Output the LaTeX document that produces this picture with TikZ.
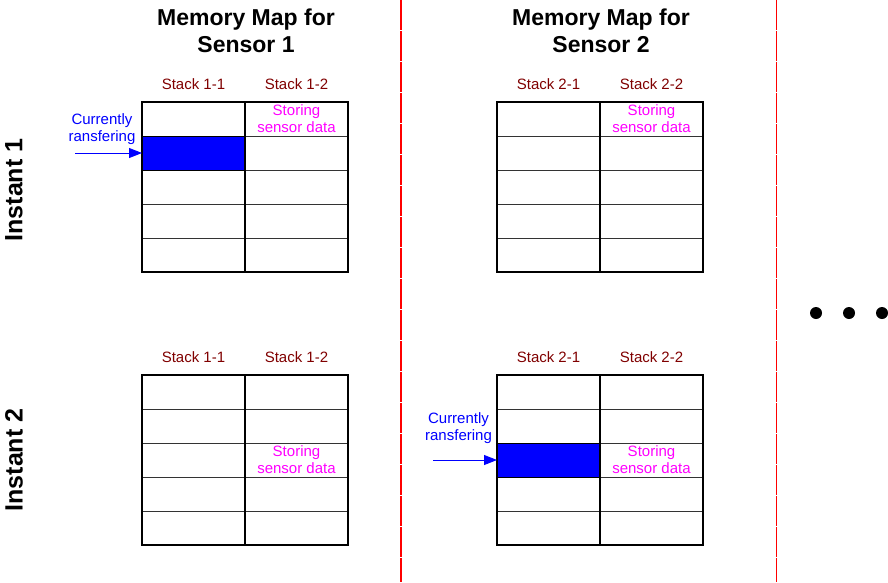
\documentclass[tikz,border=0pt]{standalone}
\usepackage{fontspec}
\setmainfont{Liberation Sans}
\usetikzlibrary{arrows.meta}

\definecolor{stackred}{RGB}{128,0,0}
\definecolor{storemag}{RGB}{255,0,255}

\tikzset{
  cell/.style={draw=black!80, line width=0.9pt, minimum width=103pt, minimum height=34pt, inner sep=0pt, outer sep=0pt},
  busy/.style={cell, draw=black, fill=blue},
  frame/.style={line width=2.6pt},
  title/.style={font=\bfseries\fontsize{23}{27}\selectfont, align=center},
  instant/.style={font=\bfseries\fontsize{25}{30}\selectfont, rotate=90},
  stacklbl/.style={text=stackred, font=\fontsize{15}{17}\selectfont},
  store/.style={text=storemag, font=\fontsize{15}{17}\selectfont, align=center, inner sep=0pt},
  note/.style={text=blue, font=\fontsize{15}{17}\selectfont, align=center, inner sep=0pt},
  feed/.style={-{Triangle[length=13pt,width=10pt]}, blue, line width=0.9pt},
  divider/.style={red, line width=1.1pt, dash pattern=on 30pt off 1pt},
  dot/.style={circle, fill=black, minimum size=12pt, inner sep=0pt}
}

\begin{document}
\begin{tikzpicture}[x=1pt,y=-1pt]
\useasboundingbox (0,0) rectangle (888,582);

% column dividers
\draw[divider] (401,0) -- (401,582);
\draw[divider] (776.5,0) -- (776.5,582);

% headings
\node[title] (m1) at (246,31) {Memory Map for\\Sensor 1};
\node[title] (m2) at (601,31) {Memory Map for\\Sensor 2};
\node[instant] (i1) at (14,190) {Instant 1};
\node[instant] (i2) at (14,460) {Instant 2};

% instant 1, sensor 1
\node[stacklbl] (h11a) at (193.5,84.5) {Stack 1-1};
\node[stacklbl] (h11b) at (296.5,84.5) {Stack 1-2};
\foreach \r in {1,...,5} {
  \node[cell] (p11a\r) at (193.5,{85+34*\r}) {};
  \node[cell] (p11b\r) at (296.5,{85+34*\r}) {};
}
\node[busy] (cur1) at (193.5,153) {};
\draw[frame] (p11a1.north west) rectangle (p11b5.south east);
\draw[frame] (p11a1.north east) -- (p11a5.south east);
\node[store] (st11) at (296.5,119) {Storing\\sensor data};
\node[note] (cn1) at (102,129) {Currently\\ransfering};
\coordinate (in1) at (75,153);
\draw[feed] (in1) -- (cur1);

% instant 1, sensor 2
\node[stacklbl] (h12a) at (548.5,84.5) {Stack 2-1};
\node[stacklbl] (h12b) at (651.5,84.5) {Stack 2-2};
\foreach \r in {1,...,5} {
  \node[cell] (p12a\r) at (548.5,{85+34*\r}) {};
  \node[cell] (p12b\r) at (651.5,{85+34*\r}) {};
}
\draw[frame] (p12a1.north west) rectangle (p12b5.south east);
\draw[frame] (p12a1.north east) -- (p12a5.south east);
\node[store] (st12) at (651.5,119) {Storing\\sensor data};

% instant 2, sensor 1
\node[stacklbl] (h21a) at (193.5,357.5) {Stack 1-1};
\node[stacklbl] (h21b) at (296.5,357.5) {Stack 1-2};
\foreach \r in {1,...,5} {
  \node[cell] (p21a\r) at (193.5,{358+34*\r}) {};
  \node[cell] (p21b\r) at (296.5,{358+34*\r}) {};
}
\draw[frame] (p21a1.north west) rectangle (p21b5.south east);
\draw[frame] (p21a1.north east) -- (p21a5.south east);
\node[store] (st21) at (296.5,460) {Storing\\sensor data};

% instant 2, sensor 2
\node[stacklbl] (h22a) at (548.5,357.5) {Stack 2-1};
\node[stacklbl] (h22b) at (651.5,357.5) {Stack 2-2};
\foreach \r in {1,...,5} {
  \node[cell] (p22a\r) at (548.5,{358+34*\r}) {};
  \node[cell] (p22b\r) at (651.5,{358+34*\r}) {};
}
\node[busy] (cur2) at (548.5,460) {};
\draw[frame] (p22a1.north west) rectangle (p22b5.south east);
\draw[frame] (p22a1.north east) -- (p22a5.south east);
\node[store] (st22) at (651.5,460) {Storing\\sensor data};
\node[note] (cn2) at (458.5,428) {Currently\\ransfering};
\coordinate (in2) at (433,460);
\draw[feed] (in2) -- (cur2);

% more sensors follow
\node[dot] (d1) at (816,313) {};
\node[dot] (d2) at (849,313) {};
\node[dot] (d3) at (882,313) {};
\end{tikzpicture}
\end{document}
